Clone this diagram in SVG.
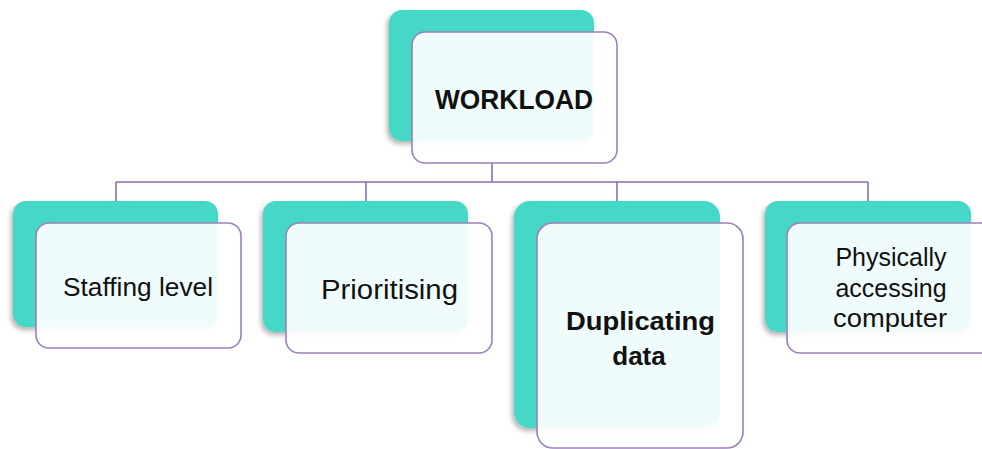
<svg xmlns="http://www.w3.org/2000/svg" width="982" height="449" viewBox="0 0 982 449">
  <defs>
    <filter id="shadow" x="-10%" y="-10%" width="125%" height="125%">
      <feDropShadow dx="-2" dy="3" stdDeviation="2.5" flood-color="#000" flood-opacity="0.3"/>
    </filter>
  </defs>
  <style>
    .back { fill: #45D8C6; filter: url(#shadow); }
    .front { fill: #ffffff; fill-opacity: 0.92; stroke: #9C80BA; stroke-width: 1.6; }
    .link { fill: none; stroke: #8E6EAA; stroke-width: 1.6; }
    .lbl { font-family: "Liberation Sans", Arial, sans-serif; fill: #111; text-anchor: middle; }
    .bold { font-weight: bold; }
  </style>
  <rect width="982" height="449" fill="#ffffff"/>

  <g id="connectors">
    <path class="link" d="M492 163 V182 M116 182 H868 M116 182 V201 M366 182 V201 M617 182 V201 M868 182 V201"/>
  </g>

  <g id="workload">
    <rect class="back" x="389" y="10" width="205" height="131" rx="13"/>
    <rect class="front" x="412" y="32" width="205" height="131" rx="13"/>
    <text class="lbl bold" x="514" y="109" font-size="28" textLength="158" lengthAdjust="spacingAndGlyphs">WORKLOAD</text>
  </g>

  <g id="staffing">
    <rect class="back" x="13" y="201" width="205" height="126" rx="13"/>
    <rect class="front" x="36" y="223" width="205" height="125" rx="13"/>
    <text class="lbl" x="138" y="296" font-size="26" textLength="150" lengthAdjust="spacingAndGlyphs">Staffing level</text>
  </g>

  <g id="prioritising">
    <rect class="back" x="263" y="201" width="205" height="131" rx="13"/>
    <rect class="front" x="286" y="223" width="206" height="130" rx="13"/>
    <text class="lbl" x="389.5" y="299" font-size="27" textLength="137" lengthAdjust="spacingAndGlyphs">Prioritising</text>
  </g>

  <g id="duplicating">
    <rect class="back" x="514" y="201" width="206" height="227" rx="16"/>
    <rect class="front" x="537" y="223" width="206" height="225" rx="16"/>
    <text class="lbl bold" x="640.5" y="330" font-size="26" textLength="149" lengthAdjust="spacingAndGlyphs">Duplicating</text>
    <text class="lbl bold" x="639" y="365" font-size="26">data</text>
  </g>

  <g id="physically">
    <rect class="back" x="765" y="201" width="206" height="131" rx="13"/>
    <rect class="front" x="787" y="223" width="206" height="130" rx="13"/>
    <text class="lbl" x="891" y="266" font-size="25">Physically</text>
    <text class="lbl" x="891" y="297" font-size="25">accessing</text>
    <text class="lbl" x="890" y="327" font-size="26" textLength="114" lengthAdjust="spacingAndGlyphs">computer</text>
  </g>
</svg>
